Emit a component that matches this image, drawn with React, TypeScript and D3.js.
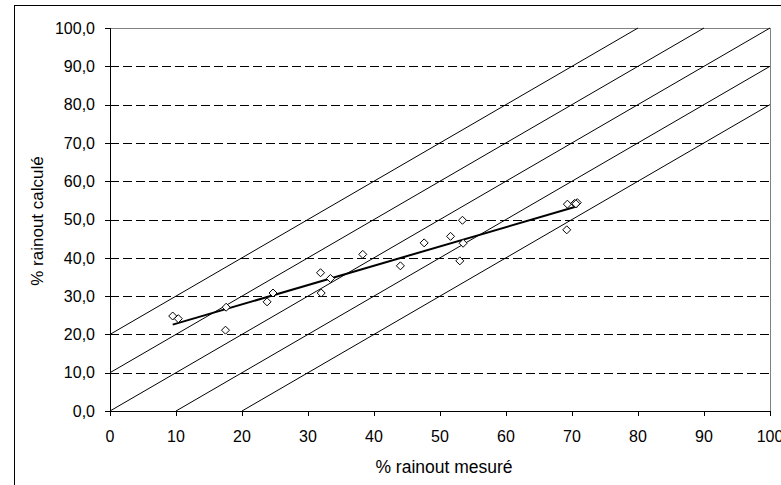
import React from "react";
import * as d3 from "d3";

const measured: number[] = [9.5, 10.35, 17.5, 17.6, 23.8, 24.7, 31.9, 32.0, 33.4, 38.3, 44.0, 47.6, 51.6, 53.4, 53.5, 53.0, 69.3, 70.4, 70.8, 70.6, 69.2];
const calculated: number[] = [24.8, 24.1, 21.1, 27.1, 28.5, 30.8, 36.1, 30.8, 34.6, 40.9, 37.9, 43.9, 45.6, 49.8, 43.8, 39.2, 54.0, 54.2, 54.4, 54.1, 47.3];
const diagonalOffsets: number[] = [20, 10, 0, -10, -20];
const xTicks: number[] = [0, 10, 20, 30, 40, 50, 60, 70, 80, 90, 100];
const yTicks: number[] = [0, 10, 20, 30, 40, 50, 60, 70, 80, 90, 100];
const xTitle = "% rainout mesuré";
const yTitle = "% rainout calculé";

export default function App() {
  const W = 781, H = 485;
  const left = 110, right = 770, top = 28, bottom = 411;
  const x = d3.scaleLinear().domain([0, 100]).range([left, right]);
  const y = d3.scaleLinear().domain([0, 100]).range([bottom, top]);
  const font = "'Liberation Sans', Arial, sans-serif";

  const pts = measured.map((m, i) => [m, calculated[i]] as [number, number]);
  const mx = d3.mean(pts, p => p[0])!;
  const my = d3.mean(pts, p => p[1])!;
  const sxy = d3.sum(pts, p => (p[0] - mx) * (p[1] - my));
  const sxx = d3.sum(pts, p => (p[0] - mx) ** 2);
  const slope = sxy / sxx;
  const intercept = my - slope * mx;
  const [xmin, xmax] = d3.extent(measured) as [number, number];
  const fmt = (v: number) => v.toFixed(1).replace(".", ",");

  const diagLines = diagonalOffsets.map(c => {
    const x0 = Math.max(0, -c), x1 = Math.min(100, 100 - c);
    return { x0, y0: x0 + c, x1, y1: x1 + c };
  });

  const line = d3.line<[number, number]>().x(d => x(d[0])).y(d => y(d[1]));

  return (
    <svg width={W} height={H} style={{ position: "absolute", left: 0, top: 0, background: "#fff" }}>
      <rect x={14.5} y={5.5} width={900} height={600} fill="#fff" stroke="#000" strokeWidth={1} />
      <line x1={left} x2={right} y1={top + 0.5} y2={top + 0.5} stroke="#808080" />
      <line x1={right + 0.5} x2={right + 0.5} y1={top} y2={bottom} stroke="#808080" />
      {yTicks.filter(t => t > 0 && t < 100).map(t => (
        <line key={t} x1={left} x2={right} y1={Math.round(y(t)) + 0.5} y2={Math.round(y(t)) + 0.5} stroke="#000" strokeDasharray="9,4" />
      ))}
      {diagLines.map((d, i) => (
        <line key={i} x1={x(d.x0)} y1={y(d.y0)} x2={x(d.x1)} y2={y(d.y1)} stroke="#000" strokeWidth={1} />
      ))}
      <line x1={left + 0.5} x2={left + 0.5} y1={top} y2={bottom} stroke="#000" />
      <line x1={left} x2={right + 1} y1={bottom + 0.5} y2={bottom + 0.5} stroke="#000" />
      {yTicks.map(t => (
        <g key={t}>
          <line x1={left - 5} x2={left} y1={Math.round(y(t)) + 0.5} y2={Math.round(y(t)) + 0.5} stroke="#000" />
          <text x={95} y={y(t)} dy="0.36em" textAnchor="end" fontFamily={font} fontSize={16}>{fmt(t)}</text>
        </g>
      ))}
      {xTicks.map(t => (
        <g key={t}>
          <line x1={Math.round(x(t)) + 0.5} x2={Math.round(x(t)) + 0.5} y1={bottom} y2={bottom + 5} stroke="#000" />
          <text x={x(t)} y={442} textAnchor="middle" fontFamily={font} fontSize={16}>{t}</text>
        </g>
      ))}
      <path d={line([[xmin, intercept + slope * xmin], [xmax, intercept + slope * xmax]]) || ""} stroke="#000" strokeWidth={2} fill="none" />
      {pts.map((p, i) => {
        const cx = x(p[0]), cy = y(p[1]), r = 4;
        return <path key={i} d={`M${cx},${cy - r}L${cx + r},${cy}L${cx},${cy + r}L${cx - r},${cy}Z`} fill="#fff" stroke="#000" strokeWidth={1} />;
      })}
      <text x={444} y={473} textAnchor="middle" fontFamily={font} fontSize={17.5}>{xTitle}</text>
      <text transform={`translate(43,221) rotate(-90)`} textAnchor="middle" fontFamily={font} fontSize={17}>{yTitle}</text>
    </svg>
  );
}
